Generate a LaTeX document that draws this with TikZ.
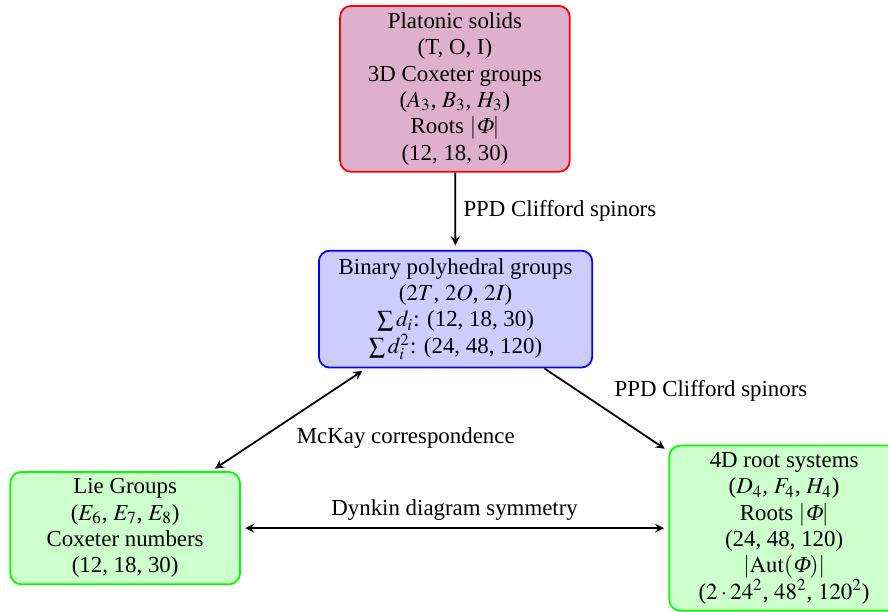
\documentclass[tikz,border=0pt]{standalone}
\usepackage{amsmath}
\usepackage{mathptmx}
\usepackage{fontspec}
\setmainfont{Liberation Serif}
\newfontfamily\slphifont[FakeSlant=0.2]{Liberation Serif}
\newcommand{\phiroot}{\text{\slphifont Φ}}
\usepackage{tikz}
\usetikzlibrary{arrows, shapes, positioning}
\usepackage{xcolor}
\definecolor{platfill}{RGB}{223,176,206}

\begin{document}
\begin{tikzpicture}[
  font=\rmfamily\fontsize{10.4}{12}\selectfont,
  box/.style={rectangle, rounded corners=5pt, thick, align=center, minimum width=3.67cm, inner ysep=3pt},
  platbox/.style={box, draw=red, fill=platfill},
  binbox/.style={box, draw=blue, fill=blue!20, inner xsep=9pt, inner ysep=3.5pt},
  liebox/.style={box, draw=green, fill=green!20},
  arr/.style={->, >=stealth, thick, shorten >=2pt},
  biarr/.style={<->, >=stealth, thick, shorten >=2pt, shorten <=2pt}
]
\useasboundingbox (0,0) rectangle (14.19,9.77);

\node[platbox] (plat) at (7.27,8.35) {Platonic solids\\(T, O, I)\\3D Coxeter groups\\($A_3$, $B_3$, $H_3$)\\Roots $|\phiroot|$\\(12, 18, 30)};
\node[binbox] (bin) at (7.28,4.83) {Binary polyhedral groups\\($2T$, $2O$, $2I$)\\$\sum d_i$: (12, 18, 30)\\$\sum d_i^2$: (24, 48, 120)};
\node[liebox] (lie) at (2.00,1.33) {Lie Groups\\($E_6$, $E_7$, $E_8$)\\Coxeter numbers\\(12, 18, 30)};
\node[liebox] (root) at (12.53,1.33) {4D root systems\\($D_4$, $F_4$, $H_4$)\\Roots $|\phiroot|$\\(24, 48, 120)\\$|\mathrm{Aut}(\phiroot)|$\\($2\cdot24^2$, $48^2$, $120^2$)};

\draw[arr] (plat) -- node[right] {PPD Clifford spinors} (bin);
\draw[arr] (bin) -- node[above right] {PPD Clifford spinors} (root);
\draw[biarr] (bin) -- node[below right] {McKay correspondence} (lie);
\draw[biarr] (lie) -- node[above] {Dynkin diagram symmetry} (root);

\end{tikzpicture}
\end{document}
